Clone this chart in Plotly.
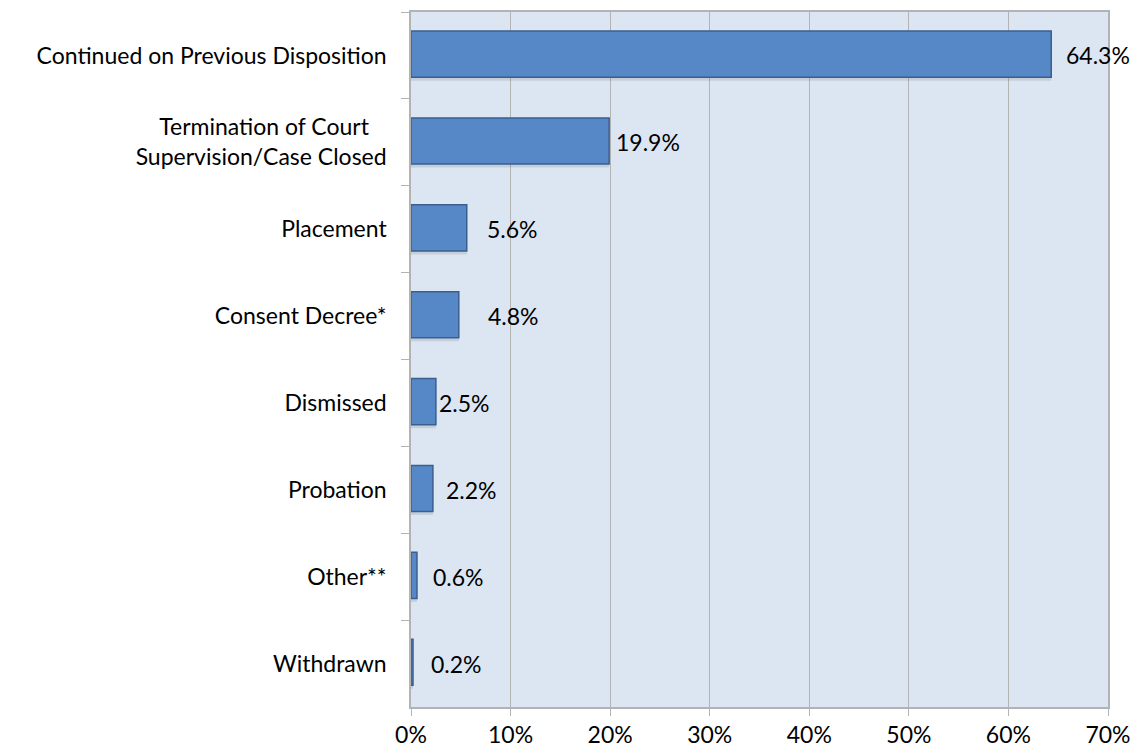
import plotly.graph_objects as go

NB = "\u00a0"
categories = [
    "Continued on Previous Disposition",
    "Termination of Court" + NB * 3 + "<br>Supervision/Case Closed",
    "Placement",
    "Consent Decree*",
    "Dismissed",
    "Probation",
    "Other**",
    "Withdrawn",
]
values = [64.3, 19.9, 5.6, 4.8, 2.5, 2.2, 0.6, 0.2]
labels = ["64.3%", "19.9%", "5.6%", "4.8%", "2.5%", "2.2%", "0.6%", "0.2%"]
label_shift = [13, 5, 18, 27, 1, 11, 14, 16]
x_ticks = [0, 10, 20, 30, 40, 50, 60, 70]
x_tick_text = ["0%", "10%", "20%", "30%", "40%", "50%", "60%", "70%"]

FONT = "Lato, 'Open Sans', sans-serif"
FS = 23

fig = go.Figure()
# soft shadow
fig.add_trace(go.Bar(
    x=values, y=categories, orientation="h",
    marker=dict(color="rgba(90,90,90,0.16)", line=dict(width=0)),
    width=0.53, offset=-0.24, hoverinfo="skip", showlegend=False,
))
fig.add_trace(go.Bar(
    x=values, y=categories, orientation="h",
    marker=dict(color="#5688c8", line=dict(color="#3a5f8e", width=1.5)),
    width=0.53, offset=-0.28, showlegend=False,
))

for c, v, t, s in zip(categories, values, labels, label_shift):
    fig.add_annotation(x=v, y=c, text=t, showarrow=False, xanchor="left",
                       xshift=s, font=dict(family=FONT, size=FS, color="#000"))

fig.update_layout(
    width=1134, height=752,
    barmode="overlay",
    paper_bgcolor="white",
    plot_bgcolor="#dce6f2",
    margin=dict(l=411, r=26, t=12, b=45),
    font=dict(family=FONT, size=FS, color="#000"),
)
fig.update_xaxes(
    range=[0, 70], tickvals=x_ticks, ticktext=x_tick_text,
    showgrid=True, gridcolor="#b3b3b3", gridwidth=1,
    showline=True, linecolor="#b3b3b3", linewidth=1.5, mirror=True,
    ticks="outside", ticklen=7, tickcolor="#b3b3b3",
    zeroline=False, tickfont=dict(size=FS), automargin=False,
)
fig.update_yaxes(
    autorange="reversed", categoryorder="array", categoryarray=categories,
    showline=True, linecolor="#b3b3b3", linewidth=1.5, mirror=True,
    ticks="outside", ticklen=8, tickcolor="#b3b3b3", tickson="boundaries",
    showgrid=False, tickfont=dict(size=FS), automargin=False,
    ticklabelstandoff=18,
)

fig.write_html(
    "out.html",
    config={"displayModeBar": False},
    post_script="document.body.style.margin='0';document.body.style.overflow='hidden';",
)
